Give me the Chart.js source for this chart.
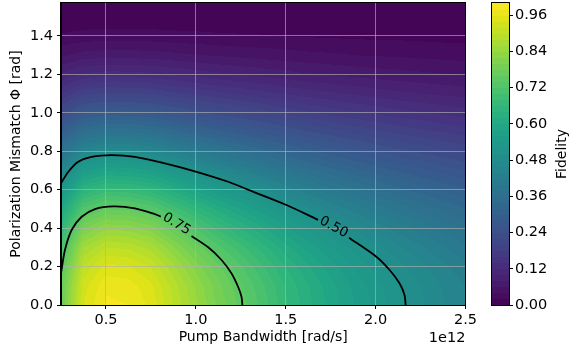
<!DOCTYPE html>
<html>
<head>
<meta charset="utf-8">
<script src="https://cdn.jsdelivr.net/npm/chart.js@4.4.0/dist/chart.umd.min.js"></script>
<style>
html, body { margin: 0; padding: 0; background: #fff; }
#wrap { position: relative; width: 569px; height: 349px; }
#main { position: absolute; left: 0; top: 0; width: 480px; height: 349px; }
#cbar { position: absolute; left: 480px; top: 0; width: 89px; height: 349px; }
</style>
</head>
<body>
<div id="wrap">
    <div id="main"><canvas id="mycanvas"></canvas></div>
    <div id="cbar"><canvas id="mycanvas2"></canvas></div>
</div>
<script>
// grid nodes: pump bandwidth (x1e12 rad/s) and polarization mismatch (rad)
var bandwidth = [0.25, 0.375, 0.5, 0.625, 0.75, 0.875, 1.0, 1.125, 1.25, 1.375,
                 1.5, 1.625, 1.75, 1.875, 2.0, 2.125, 2.25, 2.375, 2.5];
var mismatch = [0, 0.1, 0.2, 0.3, 0.4, 0.5, 0.6, 0.7, 0.8, 0.9, 1.0, 1.1, 1.2, 1.3, 1.4, 1.5, 1.5708];

// fidelity, one row per mismatch value
var fidelity = [
    [0.770,0.940,0.985,0.980,0.955,0.900,0.845,0.795,0.752,0.710,0.665,0.627,0.593,0.562,0.533,0.508,0.485,0.463,0.443],
    [0.762,0.931,0.975,0.970,0.945,0.891,0.837,0.787,0.744,0.703,0.658,0.621,0.587,0.556,0.528,0.503,0.480,0.458,0.439],
    [0.740,0.903,0.947,0.942,0.918,0.865,0.812,0.764,0.723,0.682,0.639,0.603,0.570,0.540,0.512,0.488,0.466,0.445,0.426],
    [0.703,0.858,0.899,0.895,0.872,0.822,0.771,0.726,0.687,0.648,0.607,0.572,0.541,0.513,0.487,0.464,0.443,0.423,0.404],
    [0.653,0.797,0.835,0.831,0.810,0.763,0.717,0.674,0.638,0.602,0.564,0.532,0.503,0.477,0.452,0.431,0.411,0.393,0.376],
    [0.593,0.724,0.758,0.755,0.735,0.693,0.651,0.612,0.579,0.547,0.512,0.483,0.457,0.433,0.410,0.391,0.373,0.357,0.341],
    [0.524,0.640,0.671,0.667,0.650,0.613,0.575,0.541,0.512,0.484,0.453,0.427,0.404,0.383,0.363,0.346,0.330,0.315,0.302],
    [0.450,0.550,0.576,0.573,0.559,0.527,0.494,0.465,0.440,0.415,0.389,0.367,0.347,0.329,0.312,0.297,0.284,0.271,0.259],
    [0.373,0.456,0.478,0.475,0.463,0.437,0.410,0.386,0.365,0.344,0.323,0.304,0.288,0.273,0.259,0.246,0.235,0.225,0.215],
    [0.297,0.363,0.380,0.378,0.369,0.347,0.326,0.307,0.290,0.274,0.257,0.242,0.229,0.217,0.206,0.196,0.187,0.179,0.171],
    [0.225,0.274,0.288,0.286,0.279,0.263,0.247,0.232,0.220,0.207,0.194,0.183,0.173,0.164,0.156,0.148,0.142,0.135,0.129],
    [0.159,0.195,0.204,0.203,0.198,0.186,0.175,0.165,0.156,0.147,0.138,0.130,0.123,0.116,0.110,0.105,0.100,0.096,0.092],
    [0.101,0.123,0.129,0.128,0.125,0.118,0.111,0.104,0.099,0.093,0.087,0.082,0.078,0.074,0.070,0.067,0.064,0.061,0.058],
    [0.055,0.068,0.071,0.071,0.069,0.065,0.061,0.057,0.054,0.051,0.048,0.045,0.043,0.040,0.038,0.037,0.035,0.033,0.032],
    [0.022,0.027,0.029,0.028,0.028,0.026,0.025,0.023,0.022,0.021,0.019,0.018,0.017,0.016,0.015,0.015,0.014,0.013,0.013],
    [0.004,0.005,0.005,0.005,0.005,0.005,0.004,0.004,0.004,0.004,0.003,0.003,0.003,0.003,0.003,0.003,0.002,0.002,0.002],
    [0,0,0,0,0,0,0,0,0,0,0,0,0,0,0,0,0,0,0]
];

// contour lines [bandwidth, mismatch], null = gap for the inline label
var contour75 = [[0.25,0.165],[0.272,0.286],[0.309,0.39],[0.365,0.459],[0.439,0.499],[0.541,0.513],
                 [0.661,0.503],[0.772,0.473],[0.805,0.46], null, [0.976,0.359],[1.069,0.30],[1.143,0.234],
                 [1.198,0.165],[1.235,0.095],[1.254,0.043],[1.259,0]];
var contour50 = [[0.25,0.633],[0.291,0.693],[0.346,0.745],[0.42,0.771],[0.532,0.78],[0.661,0.771],
                 [0.828,0.737],[1.004,0.693],[1.18,0.641],[1.30,0.596],[1.504,0.52],[1.68,0.443], null,
                 [1.852,0.35],[2.004,0.251],[2.078,0.182],[2.133,0.113],[2.161,0.052],[2.167,0]];
var labelText = ['0.75', '0.50'];
var labelX = [0.893, 1.767];
var labelY = [0.421, 0.404];
var labelAngle = [31, 29];

var xTicks = [0.5, 1.0, 1.5, 2.0, 2.5];
var yTicks = [0, 0.2, 0.4, 0.6, 0.8, 1.0, 1.2, 1.4];
var cbTicks = [0, 0.12, 0.24, 0.36, 0.48, 0.60, 0.72, 0.84, 0.96];
var levelStep = 0.02;
var nLevels = 50;

Chart.defaults.font.family = "'DejaVu Sans', sans-serif";
Chart.defaults.color = '#000';

var viridisStops = ['#440154','#471365','#482475','#463480','#414487','#3b528b','#355f8d',
    '#2f6c8e','#2a788e','#25848e','#21918c','#1e9c89','#22a884','#2fb47c','#44bf70',
    '#5ec962','#7ad151','#9bd93c','#bddf26','#dfe318','#fde725'];
function hexRgb(h){ return [parseInt(h.substr(1,2),16), parseInt(h.substr(3,2),16), parseInt(h.substr(5,2),16)]; }
function viridis(t){
    var p = Math.max(0, Math.min(1, t)) * (viridisStops.length - 1);
    var i = Math.min(Math.floor(p), viridisStops.length - 2), f = p - i;
    var a = hexRgb(viridisStops[i]), b = hexRgb(viridisStops[i+1]);
    return [Math.round(a[0]+(b[0]-a[0])*f), Math.round(a[1]+(b[1]-a[1])*f), Math.round(a[2]+(b[2]-a[2])*f)];
}
var bandColors = [];
for (var k = 0; k < nLevels; k++) { bandColors.push(viridis((k + 0.5) / nLevels)); }

function locate(arr, v){
    var i = 0;
    while (i < arr.length - 2 && v > arr[i+1]) { i++; }
    var t = (v - arr[i]) / (arr[i+1] - arr[i]);
    return [i, Math.max(0, Math.min(1, t))];
}

function toPoints(list){
    var out = [];
    for (var i = 0; i < list.length; i++) {
        if (list[i]) { out.push({x: list[i][0], y: list[i][1]}); }
        else { out.push({x: list[i-1][0], y: null}); }
    }
    return out;
}

// the top tick is not at the edge, so drop the label half-height padding
function noEdgePadding(s){ s.paddingTop = 0; s.paddingBottom = 0; }

var heatmap = {
    id: 'heatmap',
    beforeDraw: function(chart){
        var a = chart.chartArea, ctx = chart.ctx;
        var xs = chart.scales.x, ys = chart.scales.y;
        var left = Math.round(a.left), top = Math.round(a.top);
        var w = Math.round(a.right) - left, h = Math.round(a.bottom) - top;
        var img = ctx.createImageData(w, h);
        var cols = [], rows = [];
        for (var i = 0; i < w; i++) { cols.push(locate(bandwidth, xs.getValueForPixel(left + i + 0.5))); }
        for (var j = 0; j < h; j++) { rows.push(locate(mismatch, ys.getValueForPixel(top + j + 0.5))); }
        for (j = 0; j < h; j++) {
            var r = rows[j], r0 = fidelity[r[0]], r1 = fidelity[r[0]+1];
            for (i = 0; i < w; i++) {
                var c = cols[i];
                var lo = r0[c[0]] * (1 - c[1]) + r0[c[0]+1] * c[1];
                var hi = r1[c[0]] * (1 - c[1]) + r1[c[0]+1] * c[1];
                var v = lo * (1 - r[1]) + hi * r[1];
                var lev = Math.max(0, Math.min(nLevels - 1, Math.floor(v / levelStep)));
                var col = bandColors[lev], o = (j * w + i) * 4;
                img.data[o] = col[0]; img.data[o+1] = col[1]; img.data[o+2] = col[2]; img.data[o+3] = 255;
            }
        }
        ctx.putImageData(img, left, top);
    },
    afterDatasetsDraw: function(chart){
        var ctx = chart.ctx, xs = chart.scales.x, ys = chart.scales.y;
        ctx.save();
        ctx.fillStyle = '#000';
        ctx.font = "13.5px 'DejaVu Sans'";
        ctx.textAlign = 'center';
        ctx.textBaseline = 'middle';
        for (var i = 0; i < labelText.length; i++) {
            ctx.save();
            ctx.translate(xs.getPixelForValue(labelX[i]), ys.getPixelForValue(labelY[i]));
            ctx.rotate(labelAngle[i] * Math.PI / 180);
            ctx.fillText(labelText[i], 0, 0);
            ctx.restore();
        }
        ctx.restore();
    },
    afterDraw: function(chart){
        var a = chart.chartArea, ctx = chart.ctx;
        ctx.save();
        ctx.strokeStyle = '#000';
        ctx.lineWidth = 1;
        ctx.strokeRect(Math.round(a.left) - 0.5, Math.round(a.top) - 0.5,
                       Math.round(a.right - a.left) + 1, Math.round(a.bottom - a.top) + 1);
        ctx.fillStyle = '#000';
        ctx.font = "14.5px 'DejaVu Sans'";
        ctx.textAlign = 'right';
        ctx.textBaseline = 'middle';
        ctx.fillText('1e12', a.right, 338);
        ctx.restore();
    }
};

var colorbar = {
    id: 'colorbar',
    beforeDraw: function(chart){
        var a = chart.chartArea, ctx = chart.ctx, ys = chart.scales.y;
        for (var k = 0; k < nLevels; k++) {
            var c = bandColors[k];
            var y0 = ys.getPixelForValue(k * levelStep), y1 = ys.getPixelForValue((k + 1) * levelStep);
            ctx.fillStyle = 'rgb(' + c[0] + ',' + c[1] + ',' + c[2] + ')';
            ctx.fillRect(a.left, Math.floor(y1), a.right - a.left, Math.ceil(y0) - Math.floor(y1));
        }
    },
    afterDraw: function(chart){
        var a = chart.chartArea, ctx = chart.ctx;
        ctx.save();
        ctx.strokeStyle = '#000';
        ctx.lineWidth = 1;
        ctx.strokeRect(Math.round(a.left) - 0.5, Math.round(a.top) - 0.5,
                       Math.round(a.right - a.left) + 1, Math.round(a.bottom - a.top) + 1);
        ctx.fillStyle = '#000';
        ctx.font = "14px 'DejaVu Sans'";
        ctx.textAlign = 'center';
        ctx.textBaseline = 'middle';
        ctx.translate(82, (a.top + a.bottom) / 2);
        ctx.rotate(-Math.PI / 2);
        ctx.fillText('Fidelity', 0, 0);
        ctx.restore();
    }
};

var ctx = document.getElementById('mycanvas');
var FidelityMap = new Chart(ctx, {
    type: 'scatter',
    data: {
        datasets: [
            { data: toPoints(contour75), showLine: true, borderColor: '#000', borderWidth: 1.8,
              pointRadius: 0, tension: 0.3, spanGaps: false },
            { data: toPoints(contour50), showLine: true, borderColor: '#000', borderWidth: 1.8,
              pointRadius: 0, tension: 0.3, spanGaps: false }
        ]
    },
    options: {
        responsive: true,
        maintainAspectRatio: false,
        animation: false,
        layout: { padding: { top: 3, right: 14, left: 0, bottom: 0 } },
        plugins: { legend: { display: false }, tooltip: { enabled: false } },
        scales: {
            x: {
                type: 'linear', min: 0.25, max: 2.5,
                afterBuildTicks: function(s){ s.ticks = xTicks.map(function(v){ return {value: v}; }); },
                afterFit: function(s){ s.height = 44; },
                grid: { color: 'rgba(176,176,176,0.65)', lineWidth: 1, tickColor: '#000', tickLength: 4 },
                border: { color: '#000', width: 1 },
                ticks: { color: '#000', font: { size: 14.5 }, padding: 3, maxRotation: 0, autoSkip: false,
                         callback: function(v){ return v.toFixed(1); } },
                title: { display: true, text: 'Pump Bandwidth [rad/s]', color: '#000', font: { size: 14 },
                         padding: { top: 0, bottom: 3 } }
            },
            y: {
                type: 'linear', min: 0, max: mismatch[mismatch.length - 1],
                afterBuildTicks: function(s){ s.ticks = yTicks.map(function(v){ return {value: v}; }); },
                afterFit: function(s){ s.width = 61; noEdgePadding(s); },
                grid: { color: 'rgba(176,176,176,0.65)', lineWidth: 1, tickColor: '#000', tickLength: 4 },
                border: { color: '#000', width: 1 },
                ticks: { color: '#000', font: { size: 14.5 }, padding: 4, autoSkip: false,
                         callback: function(v){ return v.toFixed(1); } },
                title: { display: true, text: 'Polarization Mismatch \u03a6 [rad]', color: '#000', font: { size: 14 },
                         padding: { top: 8, bottom: 0 } }
            }
        }
    },
    plugins: [heatmap]
});

var ctx2 = document.getElementById('mycanvas2');
var ColorBar = new Chart(ctx2, {
    type: 'scatter',
    data: { datasets: [] },
    options: {
        responsive: true,
        maintainAspectRatio: false,
        animation: false,
        layout: { padding: { top: 3, right: 0, left: 12, bottom: 44 } },
        plugins: { legend: { display: false }, tooltip: { enabled: false } },
        scales: {
            x: { display: false, min: 0, max: 1 },
            y: {
                position: 'right', min: 0, max: 1,
                afterBuildTicks: function(s){ s.ticks = cbTicks.map(function(v){ return {value: v}; }); },
                afterFit: function(s){ s.width = 60; noEdgePadding(s); },
                grid: { drawOnChartArea: false, tickColor: '#000', tickLength: 4 },
                border: { display: false },
                ticks: { color: '#000', font: { size: 14.5 }, padding: 2, autoSkip: false,
                         callback: function(v){ return v.toFixed(2); } }
            }
        }
    },
    plugins: [colorbar]
});
</script>
</body>
</html>
